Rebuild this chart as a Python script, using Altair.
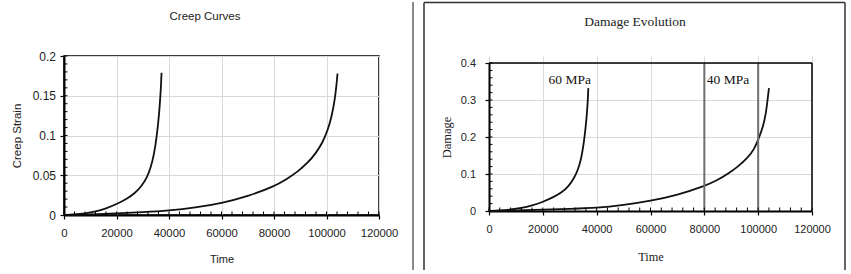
import altair as alt
import pandas as pd

# ---------------- data ----------------
panel_titles = ["Creep Curves", "Damage Evolution"]
x_title = "Time"
y_titles = ["Creep Strain", "Damage"]

x_ticks = [0, 20000, 40000, 60000, 80000, 100000, 120000]
x_minor = [i * 4000 for i in range(31)]
strain_ticks = [0, 0.05, 0.1, 0.15, 0.2]
strain_minor = [round(i * 0.01, 2) for i in range(21)]
damage_ticks = [0, 0.1, 0.2, 0.3, 0.4]
damage_minor = [round(i * 0.02, 2) for i in range(21)]

# creep strain, 60 MPa
t60_strain = [0, 4000, 8000, 12000, 16000, 20000, 24000, 27000, 29500, 31700,
              33000, 34300, 35300, 36000, 36500, 36800, 37000, 37150]
strain60 = [0, 0.0007, 0.002, 0.0042, 0.0082, 0.0135, 0.0205, 0.0275, 0.0358, 0.0479,
            0.059, 0.076, 0.098, 0.119, 0.139, 0.154, 0.166, 0.179]
# creep strain, 40 MPa
t40_strain = [0, 10000, 20000, 30000, 40000, 50000, 60000, 70000, 80000, 85000,
              89000, 93000, 96000, 98500, 100500, 102000, 103200, 103800, 104200]
strain40 = [0, 0.0008, 0.002, 0.0035, 0.0055, 0.0092, 0.0148, 0.0235, 0.0358, 0.0455,
            0.0545, 0.066, 0.078, 0.091, 0.107, 0.124, 0.146, 0.163, 0.178]
# damage, 60 MPa
t60_damage = [0, 4000, 8000, 12000, 16000, 20000, 24000, 27000, 29500, 31700,
              33000, 34300, 35200, 35900, 36400, 36700, 36900]
damage60 = [0, 0.0013, 0.0038, 0.0078, 0.0148, 0.0245, 0.0375, 0.05, 0.066, 0.09,
            0.11, 0.142, 0.182, 0.225, 0.265, 0.298, 0.332]
# damage, 40 MPa
t40_damage = [0, 10000, 20000, 30000, 40000, 50000, 60000, 70000, 80000, 85000,
              88700, 92500, 96100, 98500, 100400, 101800, 102800, 103500, 104000]
damage40 = [0, 0.0015, 0.0035, 0.0058, 0.008, 0.0158, 0.027, 0.043, 0.0667, 0.084,
            0.1, 0.12, 0.144, 0.166, 0.2, 0.228, 0.26, 0.3, 0.332]

stress_labels = ["60 MPa", "40 MPa"]
label_time = [30000, 88800]
label_damage = [0.342, 0.342]
marker_times = [80000, 100000]

# ---------------- styling ----------------
SANS = "Liberation Sans"
SERIF = "Liberation Serif"
LW, LH = 315, 159
RW, RH, ROFF = 323, 155, 7
GRID = "#d9d9d9"

strain_df = pd.concat([
    pd.DataFrame({"time": t60_strain, "value": strain60, "stress": stress_labels[0]}),
    pd.DataFrame({"time": t40_strain, "value": strain40, "stress": stress_labels[1]}),
])
damage_df = pd.concat([
    pd.DataFrame({"time": t60_damage, "value": damage60, "stress": stress_labels[0]}),
    pd.DataFrame({"time": t40_damage, "value": damage40, "stress": stress_labels[1]}),
])
xminor_df = pd.DataFrame({"time": x_minor})
sminor_df = pd.DataFrame({"value": strain_minor})
dminor_df = pd.DataFrame({"value": damage_minor})
label_df = pd.DataFrame({"label": stress_labels, "time": label_time, "value": label_damage})
marker_df = pd.DataFrame({"time": marker_times, "value": [damage_ticks[0]] * 2,
                          "value2": [damage_ticks[-1]] * 2})

xscale = alt.Scale(domain=[0, 120000], nice=False, zero=False)
ys_left = alt.Scale(domain=[0, 0.2], nice=False)
ys_right = alt.Scale(domain=[0, 0.4], nice=False, range=[RH, ROFF])


def x_axis(title_y, label_size, title_font, title_size, w):
    return alt.Axis(values=x_ticks, format="d", grid=True, gridColor=GRID, gridWidth=1,
                    domainColor="#000", domainWidth=2, tickColor="#000", tickSize=4, tickWidth=1.2,
                    labelFont=SANS, labelFontSize=label_size, labelColor="#222", labelPadding=8,
                    labelFlush=False, labelOverlap=False,
                    title=x_title, titleFont=title_font, titleFontSize=title_size,
                    titleFontWeight="normal", titleColor="#222",
                    titleX=w / 2, titleY=title_y,
                    titleAlign="center", titleBaseline="alphabetic")


# ---------------- left panel ----------------
lx_axis = x_axis(47.7, 11.3, SANS, 11, LW)
ly_axis = alt.Axis(values=strain_ticks, format="~g", grid=True, gridColor=GRID, gridWidth=1,
                   domainColor="#000", domainWidth=2, tickColor="#000", tickSize=4, tickWidth=1.2,
                   labelFont=SANS, labelFontSize=12, labelColor="#222", labelPadding=4.5,
                   labelOverlap=False,
                   title=y_titles[0], titleFont=SANS, titleFontSize=11.5, titleFontWeight="normal",
                   titleColor="#222", titleX=-43.5, titleY=LH / 2, titleAngle=-90,
                   titleAlign="center", titleBaseline="alphabetic")

lx = lambda f: alt.X(f, scale=xscale, axis=lx_axis)
ly = lambda f: alt.Y(f, scale=ys_left, axis=ly_axis)

l_lines = alt.Chart(strain_df).mark_line(interpolate="basis", color="#111", strokeWidth=1.8).encode(
    x=lx("time:Q"), y=ly("value:Q"), detail="stress:N")
l_xminor = alt.Chart(xminor_df).mark_rule(color="#000", strokeWidth=1).encode(
    x=lx("time:Q"), y=alt.value(LH), y2=alt.value(LH - 3.5))
l_yminor = alt.Chart(sminor_df).mark_rule(color="#000", strokeWidth=1).encode(
    y=ly("value:Q"), x=alt.value(0), x2=alt.value(3.5))
l_title = alt.Chart(pd.DataFrame({"title": [panel_titles[0]]})).mark_text(
    font=SANS, fontSize=11.5, color="#222", align="center", baseline="alphabetic").encode(
    text="title:N", x=alt.value(141), y=alt.value(-35.7))
l_anchor = alt.Chart().mark_rule(opacity=0).encode(
    x=alt.value(-62.5), y=alt.value(-54.5), y2=alt.value(0))
l_sep = alt.Chart().mark_rule(color="#8a8a8a", strokeWidth=2).encode(
    x=alt.value(349), y=alt.value(-54), y2=alt.value(214))

left = alt.layer(l_lines, l_xminor, l_yminor, l_title, l_anchor, l_sep).properties(
    width=LW, height=LH, view=alt.ViewBackground(stroke="#000", strokeWidth=1.5))

# ---------------- right panel ----------------
rx_axis = x_axis(49, 11, SERIF, 12.3, RW)
ry_axis = alt.Axis(values=damage_ticks, format="~g", grid=True, gridColor=GRID, gridWidth=1,
                   domainColor="#000", domainWidth=2, tickColor="#000", tickSize=4, tickWidth=1.2,
                   labelFont=SANS, labelFontSize=11, labelColor="#222", labelPadding=9.5,
                   labelOverlap=False,
                   title=y_titles[1], titleFont=SERIF, titleFontSize=12.5, titleFontWeight="normal",
                   titleColor="#222", titleX=-38.5, titleY=ROFF + (RH - ROFF) / 2, titleAngle=-90,
                   titleAlign="center", titleBaseline="alphabetic")

rx = lambda f: alt.X(f, scale=xscale, axis=rx_axis)
ry = lambda f: alt.Y(f, scale=ys_right, axis=ry_axis)

r_lines = alt.Chart(damage_df).mark_line(interpolate="basis", color="#111", strokeWidth=1.8).encode(
    x=rx("time:Q"), y=ry("value:Q"), detail="stress:N")
r_markers = alt.Chart(marker_df).mark_rule(color="#6f6f6f", strokeWidth=2).encode(
    x=rx("time:Q"), y=ry("value:Q"), y2="value2:Q")
r_xminor = alt.Chart(xminor_df).mark_rule(color="#000", strokeWidth=1).encode(
    x=rx("time:Q"), y=alt.value(RH), y2=alt.value(RH - 3.5))
r_yminor = alt.Chart(dminor_df).mark_rule(color="#000", strokeWidth=1).encode(
    y=ry("value:Q"), x=alt.value(0), x2=alt.value(3.5))
r_top = alt.Chart().mark_rule(color="#000", strokeWidth=1.5).encode(
    x=alt.value(0), x2=alt.value(RW), y=alt.value(ROFF))
r_right = alt.Chart().mark_rule(color="#000", strokeWidth=1.5).encode(
    x=alt.value(RW), y=alt.value(ROFF), y2=alt.value(RH))
r_title = alt.Chart(pd.DataFrame({"title": [panel_titles[1]]})).mark_text(
    font=SERIF, fontSize=13.5, color="#222", align="center", baseline="alphabetic").encode(
    text="title:N", x=alt.value(146), y=alt.value(-30))
r_labels = alt.Chart(label_df).mark_text(
    font=SERIF, fontSize=13.5, color="#111", align="center", baseline="alphabetic").encode(
    text="label:N", x=rx("time:Q"), y=ry("value:Q"))
box_l = alt.Chart().mark_rule(color="#333", strokeWidth=1.5).encode(
    x=alt.value(-65), y=alt.value(-53.5), y2=alt.value(214))
box_r = alt.Chart().mark_rule(color="#333", strokeWidth=1.5).encode(
    x=alt.value(356), y=alt.value(-53.5), y2=alt.value(214))
box_t = alt.Chart().mark_rule(color="#333", strokeWidth=1.5).encode(
    x=alt.value(-65), x2=alt.value(356), y=alt.value(-53.5))

right = alt.layer(r_lines, r_markers, r_xminor, r_yminor, r_top, r_right, r_title, r_labels,
                  box_l, box_r, box_t).properties(
    width=RW, height=RH, view=alt.ViewBackground(stroke="transparent"))

chart = alt.hconcat(left, right, spacing=110, bounds="flush").properties(
    padding={"left": 0, "top": 0, "right": 0, "bottom": 0}, background="white")

chart.save("out.html", embed_options={"renderer": "svg", "actions": False})
